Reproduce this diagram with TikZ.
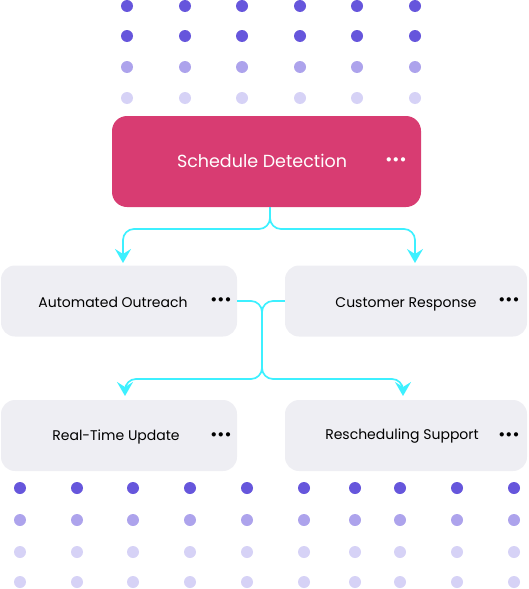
\documentclass[tikz,border=0pt]{standalone}
\usepackage{fontspec}
\setmainfont{Poppins}
\usetikzlibrary{arrows.meta}

\definecolor{dotdark}{HTML}{6656DC}
\definecolor{dotmid}{HTML}{ADA3EC}
\definecolor{dotlight}{HTML}{D6D2F6}
\definecolor{boxpink}{HTML}{D83C72}
\definecolor{boxgray}{HTML}{EEEEF3}
\definecolor{flowcyan}{HTML}{3DF0FF}

\tikzset{
  mainbox/.style={rounded corners=15pt, fill=boxpink, minimum width=309pt, minimum height=91pt, inner sep=0pt},
  stepbox/.style={rounded corners=14pt, fill=boxgray, minimum width=236pt, minimum height=71pt, inner sep=0pt},
  lbl/.style={font=\fontsize{14}{16}\selectfont, text=black, inner sep=0pt},
  menu/.style={font=\bfseries\fontsize{14}{14}\selectfont, inner sep=0pt},
  flow/.style={draw=flowcyan, line width=1.7pt, rounded corners=11pt, -{Stealth[length=14pt, width=16pt, inset=5pt]}},
  dot/.style={circle, inner sep=0pt, minimum size=12pt}
}

\begin{document}
\begin{tikzpicture}[x=1pt, y=-1pt]
\useasboundingbox (0,0) rectangle (529,589);

% dots on top
\foreach \x in {127,185,242,300,357,415} {
  \node[dot, fill=dotdark]  at (\x,6)  {};
  \node[dot, fill=dotdark]  at (\x,36) {};
  \node[dot, fill=dotmid]   at (\x,67) {};
  \node[dot, fill=dotlight] at (\x,98) {};
}

% dots at the bottom
\foreach \x in {20,77,133,190,247,304,355,400,457,514} {
  \node[dot, fill=dotdark]  at (\x,488) {};
  \node[dot, fill=dotmid]   at (\x,520) {};
  \node[dot, fill=dotlight] at (\x,552) {};
  \node[dot, fill=dotlight] at (\x,582) {};
}

\node[mainbox] (detect) at (266.5,161.5) {};
\node[lbl, text=white, font=\fontsize{17.5}{20}\selectfont] (detectlbl) at (262,161) {Schedule Detection};
\node[menu, text=white] (detectmenu) at (396,161) {•••};

\node[stepbox] (outreach) at (119,301) {};
\node[lbl] (outreachlbl) at (113,302) {Automated Outreach};
\node[menu] (outreachmenu) at (221,301) {•••};

\node[stepbox, minimum width=242pt] (response) at (406,301) {};
\node[lbl] (responselbl) at (406,304) {Customer Response};
\node[menu] (responsemenu) at (509,301) {•••};

\node[stepbox] (update) at (119,435.5) {};
\node[lbl] (updatelbl) at (116,437) {Real-Time Update};
\node[menu] (updatemenu) at (221,436) {•••};

\node[stepbox, minimum width=242pt] (support) at (406,435.5) {};
\node[lbl] (supportlbl) at (402,436) {Rescheduling Support};
\node[menu] (supportmenu) at (509,436) {•••};

% connectors
\coordinate (split1) at (270,229);
\coordinate (split2) at (262,379);

\draw[flow] (detect.south -| split1) -- (split1) -| (123,263);
\draw[flow] (detect.south -| split1) -- (split1) -| (415,263);

\draw[flow] (outreach.east) -| (split2) -| (125,396);
\draw[flow] (response.west) -| (split2) -| (403,396);
\end{tikzpicture}
\end{document}
